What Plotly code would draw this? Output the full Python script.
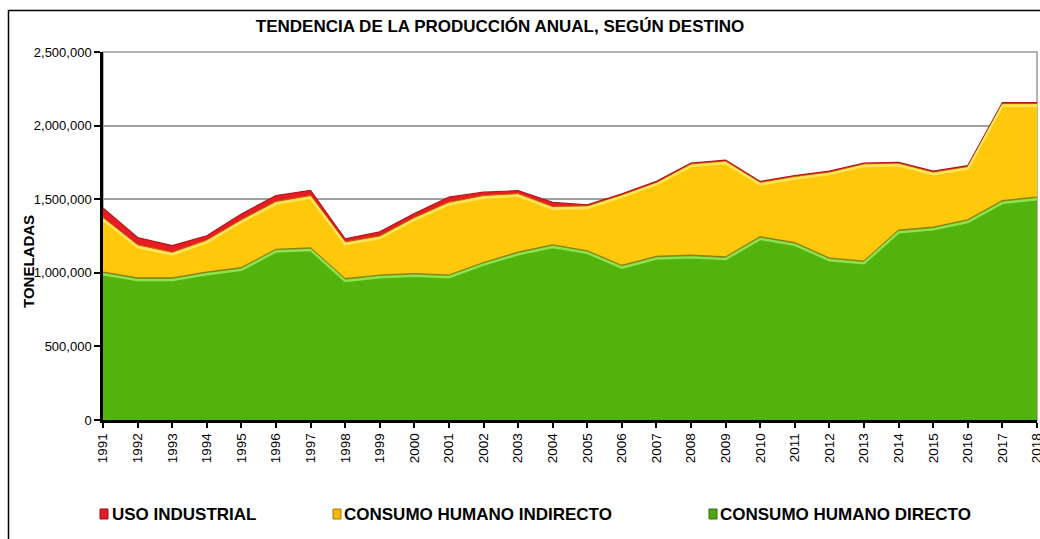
import plotly.graph_objects as go

# Annual production by destination (tonnes)
years = list(range(1991, 2019))
consumo_directo = [1005000, 965000, 965000, 1005000, 1035000, 1160000, 1170000,
                   960000, 985000, 995000, 985000, 1070000, 1140000, 1190000,
                   1150000, 1050000, 1112000, 1120000, 1108000, 1245000, 1205000,
                   1100000, 1080000, 1290000, 1310000, 1360000, 1490000, 1515000]
consumo_indirecto = [370000, 225000, 175000, 217000, 325000, 325000, 355000,
                     250000, 265000, 380000, 495000, 455000, 398000, 260000,
                     305000, 480000, 503000, 620000, 652000, 370000, 450000,
                     585000, 660000, 455000, 375000, 362000, 660000, 635000]
uso_industrial = [65000, 50000, 45000, 30000, 40000, 40000, 35000,
                  20000, 28000, 27000, 35000, 23000, 20000, 28000,
                  7000, 6000, 6000, 6000, 6000, 6000, 6000,
                  6000, 6000, 6000, 6000, 6000, 6000, 6000]
y_ticks = [0, 500000, 1000000, 1500000, 2000000, 2500000]

W, H = 1040, 539
ML, MR, MT, MB = 103, 3, 52, 119
PW, PH = W - ML - MR, H - MT - MB
Y_MAX = 2500000
BEVEL = 2.2 * Y_MAX / PH  # highlight offset, about 2 px below each edge

FONT = "Liberation Sans, Arial, sans-serif"


def px_x(px):
    return (px - ML) / PW


def px_y(py):
    return (H - MB - py) / PH


fig = go.Figure()

# stacked areas
fig.add_trace(go.Scatter(x=years, y=consumo_directo, name="CONSUMO HUMANO DIRECTO",
                         stackgroup="a", mode="lines",
                         line=dict(color="#8f7d16", width=1.2),
                         fillcolor="#52b30d", showlegend=False))
fig.add_trace(go.Scatter(x=years, y=consumo_indirecto, name="CONSUMO HUMANO INDIRECTO",
                         stackgroup="a", mode="lines",
                         line=dict(color="#c0600c", width=1.0),
                         fillcolor="#ffc80a", showlegend=False))
fig.add_trace(go.Scatter(x=years, y=uso_industrial, name="USO INDUSTRIAL",
                         stackgroup="a", mode="lines",
                         line=dict(color="#b8141a", width=1.2),
                         fillcolor="#e61e24", showlegend=False))

# light bevel just inside the top edge of the green and yellow bands
fig.add_trace(go.Scatter(x=years, y=consumo_directo, stackgroup="b", fill="none",
                         mode="lines", line=dict(color="#90e24c", width=2.4),
                         yaxis="y2", showlegend=False, hoverinfo="skip"))
fig.add_trace(go.Scatter(x=years, y=consumo_indirecto, stackgroup="b", fill="none",
                         mode="lines", line=dict(color="#ffe45c", width=2.4),
                         yaxis="y2", showlegend=False, hoverinfo="skip"))

shapes = [
    # plot area frame (grey, top and right show)
    dict(type="rect", xref="paper", yref="paper", x0=0, y0=0, x1=1, y1=1,
         line=dict(color="#9a9a9a", width=1.5), layer="below"),
    # outer chart frame
    dict(type="rect", xref="paper", yref="paper",
         x0=px_x(8.5), y0=px_y(700), x1=px_x(1200), y1=px_y(10.5),
         line=dict(color="#000000", width=1.5), layer="above"),
]

legend_items = [
    ("USO INDUSTRIAL", "#e31b23", "#9c0f14", 100, 110),
    ("CONSUMO HUMANO INDIRECTO", "#f3b90a", "#a87a08", 333, 342),
    ("CONSUMO HUMANO DIRECTO", "#4ea80e", "#2f6e08", 709, 718),
]
annotations = []
for label, col, edge, sx, tx in legend_items:
    shapes.append(dict(type="rect", xref="paper", yref="paper",
                       x0=px_x(sx), x1=px_x(sx + 8), y0=px_y(519), y1=px_y(509),
                       fillcolor=col, line=dict(color=edge, width=1), layer="above"))
    annotations.append(dict(text=label, xref="paper", yref="paper",
                            x=px_x(tx), y=px_y(514), xanchor="left", yanchor="middle",
                            showarrow=False,
                            font=dict(family=FONT, size=17, color="#000000",
                                      weight="bold")))

annotations.append(dict(text="TONELADAS", xref="paper", yref="paper",
                        x=px_x(28), y=px_y(262), xanchor="center", yanchor="middle",
                        textangle=-90, showarrow=False,
                        font=dict(family=FONT, size=15, color="#000000", weight="bold")))

fig.update_layout(
    width=W, height=H,
    margin=dict(l=ML, r=MR, t=MT, b=MB, autoexpand=False),
    paper_bgcolor="#ffffff", plot_bgcolor="#ffffff",
    title=dict(text="<b>TENDENCIA DE LA PRODUCCIÓN ANUAL, SEGÚN DESTINO</b>",
               x=500 / W, y=1 - 26 / H, xanchor="center", yanchor="middle",
               font=dict(family=FONT, size=17, color="#000000")),
    showlegend=False,
    xaxis=dict(range=[years[0], years[-1]], tickmode="array", tickvals=years,
               ticktext=[str(y) for y in years], tickangle=-90,
               ticklabeloverflow="allow", automargin=False,
               ticks="outside", ticklen=5, tickwidth=2, tickcolor="#000000",
               showline=True, linecolor="#000000", linewidth=2.5,
               showgrid=False, zeroline=False,
               tickfont=dict(family=FONT, size=13.5, color="#000000")),
    yaxis=dict(range=[0, Y_MAX], tickmode="array", tickvals=y_ticks,
               tickformat=",d", ticks="outside", ticklen=6, tickwidth=2,
               automargin=False,
               tickcolor="#000000", showline=True, linecolor="#000000",
               linewidth=2.5, showgrid=True, gridcolor="#a0a0a0", gridwidth=1.5,
               zeroline=False,
               tickfont=dict(family=FONT, size=13, color="#000000")),
    yaxis2=dict(range=[BEVEL, Y_MAX + BEVEL], overlaying="y", visible=False),
    shapes=shapes,
    annotations=annotations,
)

fig.write_html("out.html")
